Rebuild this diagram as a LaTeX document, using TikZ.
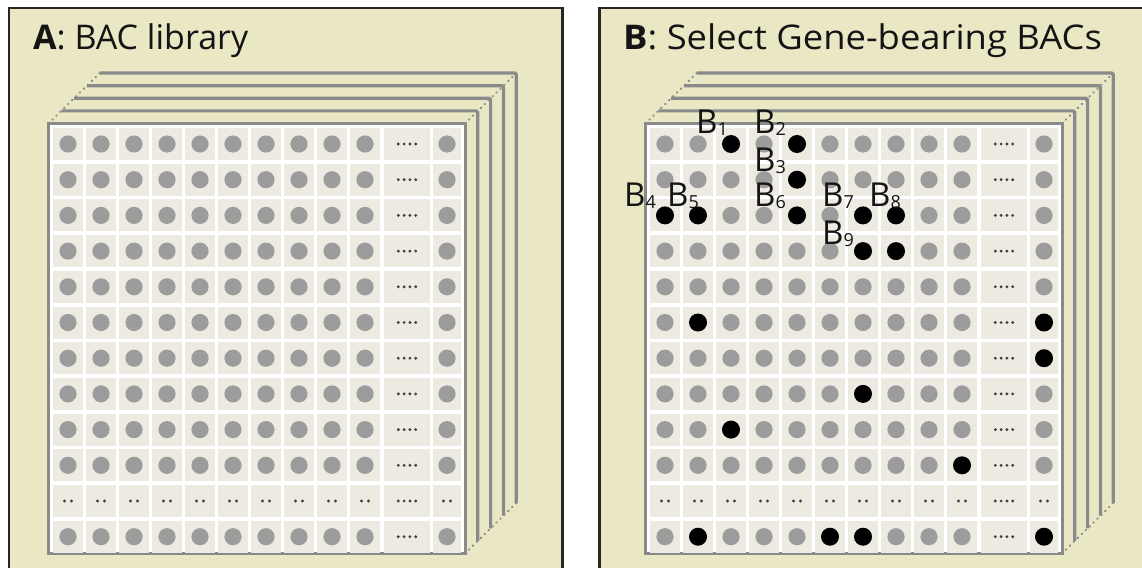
\documentclass[tikz,border=0pt]{standalone}
\usepackage{fontspec}
\setmainfont{Open Sans}
\definecolor{panelbg}{HTML}{EAE7C4}
\definecolor{cellbg}{HTML}{EDEBE1}
\definecolor{dotgray}{HTML}{9C9C9C}
\definecolor{plategray}{HTML}{8A8A8A}
\definecolor{framedark}{HTML}{262626}
\tikzset{
  panelframe/.style={draw=framedark, line width=2.5pt, fill=panelbg},
  platebox/.style={draw=plategray, line width=3pt, fill=white},
  stackline/.style={draw=plategray, line width=3.2pt, rounded corners=1.5pt},
  dotdiag/.style={draw=plategray, line width=2.2pt, dash pattern=on 0.5pt off 5pt, line cap=round},
  cellbox/.style={fill=cellbg},
  graydot/.style={fill=dotgray},
  blackdot/.style={fill=black},
  tinydot/.style={fill=black!75},
  paneltitle/.style={font=\fontsize{34}{38}\selectfont, anchor=base west, inner sep=0pt, text=black!92},
  blabel/.style={font=\fontsize{33}{34}\selectfont, anchor=base west, inner sep=0pt, text=black!92},
}
\newcommand\bsub[1]{B\raisebox{-2pt}{\fontsize{18}{18}\selectfont #1}}
\newcommand\bacplate[1]{%
  \begin{scope}[shift={(#1,0)}]
    \foreach \k in {4,3,2,1} {
      \draw[stackline] ({48.5+12.8*\k},{123.5-12.6*\k}) -- ({465+12.8*\k},{123.5-12.6*\k}) -- ({465+12.8*\k},{553.5-12.6*\k});
    }
    \draw[dotdiag] (48.5,123.5) -- (99.7,73.1);
    \draw[dotdiag] (465,123.5) -- (516.2,73.1);
    \draw[dotdiag] (465,553.5) -- (516.2,503.1);
    \draw[platebox] (48.5,123.5) rectangle (465,553.5);
    \foreach \r in {1,...,12} {
      \pgfmathsetmacro\cy{144+35.7*(\r-1)}
      \foreach \c in {1,...,10} {
        \pgfmathsetmacro\cx{68+33*(\c-1)}
        \fill[cellbox] (\cx-15,\cy-16) rectangle (\cx+15,\cy+16);
        \ifnum\r=11
          \fill[tinydot] (\cx-3.5,\cy) circle (1.6) (\cx+3.5,\cy) circle (1.6);
        \else
          \fill[graydot] (\cx,\cy) circle (8.6);
        \fi
      }
      \fill[cellbox] (384,\cy-16) rectangle (430,\cy+16);
      \fill[tinydot] (398.3,\cy) circle (1.6) (404.1,\cy) circle (1.6) (409.9,\cy) circle (1.6) (415.7,\cy) circle (1.6);
      \fill[cellbox] (433,\cy-16) rectangle (461,\cy+16);
      \ifnum\r=11
        \fill[tinydot] (443.5,\cy) circle (1.6) (450.5,\cy) circle (1.6);
      \else
        \fill[graydot] (447,\cy) circle (8.6);
      \fi
    }
  \end{scope}}
\begin{document}
\begin{tikzpicture}[x=1pt,y=-1pt]
\useasboundingbox (0,0) rectangle (1142,567);
\clip (0,0) rectangle (1142,567);
\fill[white] (0,0) rectangle (1142,567);
% panels
\draw[panelframe] (9,8) rectangle (562.5,600);
\draw[panelframe] (599.5,8) rectangle (1170,600);
\node[paneltitle] (titleA) at (33,50) {\textbf{A}: BAC library};
\node[paneltitle] (titleB) at (623,50) {\scalebox{1.07}[1]{\textbf{B}: Select Gene-bearing BACs}};
% plates
\bacplate{0}
\bacplate{597}
% selected BACs in panel B
\begin{scope}[shift={(597,0)}]
  \foreach \c/\r in {3/1,5/1,5/2,1/3,2/3,5/3,7/3,8/3,7/4,8/4,2/6,7/8,3/9,10/10,2/12,6/12,7/12} {
    \fill[blackdot] ({68+33*(\c-1)},{144+35.7*(\r-1)}) circle (9);
  }
  \foreach \r in {6,7,12} {
    \fill[blackdot] (447,{144+35.7*(\r-1)}) circle (9);
  }
\end{scope}
% labels
\node[blabel] (b1) at (696,133) {\bsub{1}};
\node[blabel] (b2) at (754,133) {\bsub{2}};
\node[blabel] (b3) at (754,171) {\bsub{3}};
\node[blabel] (b4) at (624,206) {\bsub{4}};
\node[blabel] (b5) at (667,206) {\bsub{5}};
\node[blabel] (b6) at (754,206) {\bsub{6}};
\node[blabel] (b7) at (822,206) {\bsub{7}};
\node[blabel] (b8) at (869,206) {\bsub{8}};
\node[blabel] (b9) at (822,244) {\bsub{9}};
\end{tikzpicture}
\end{document}
